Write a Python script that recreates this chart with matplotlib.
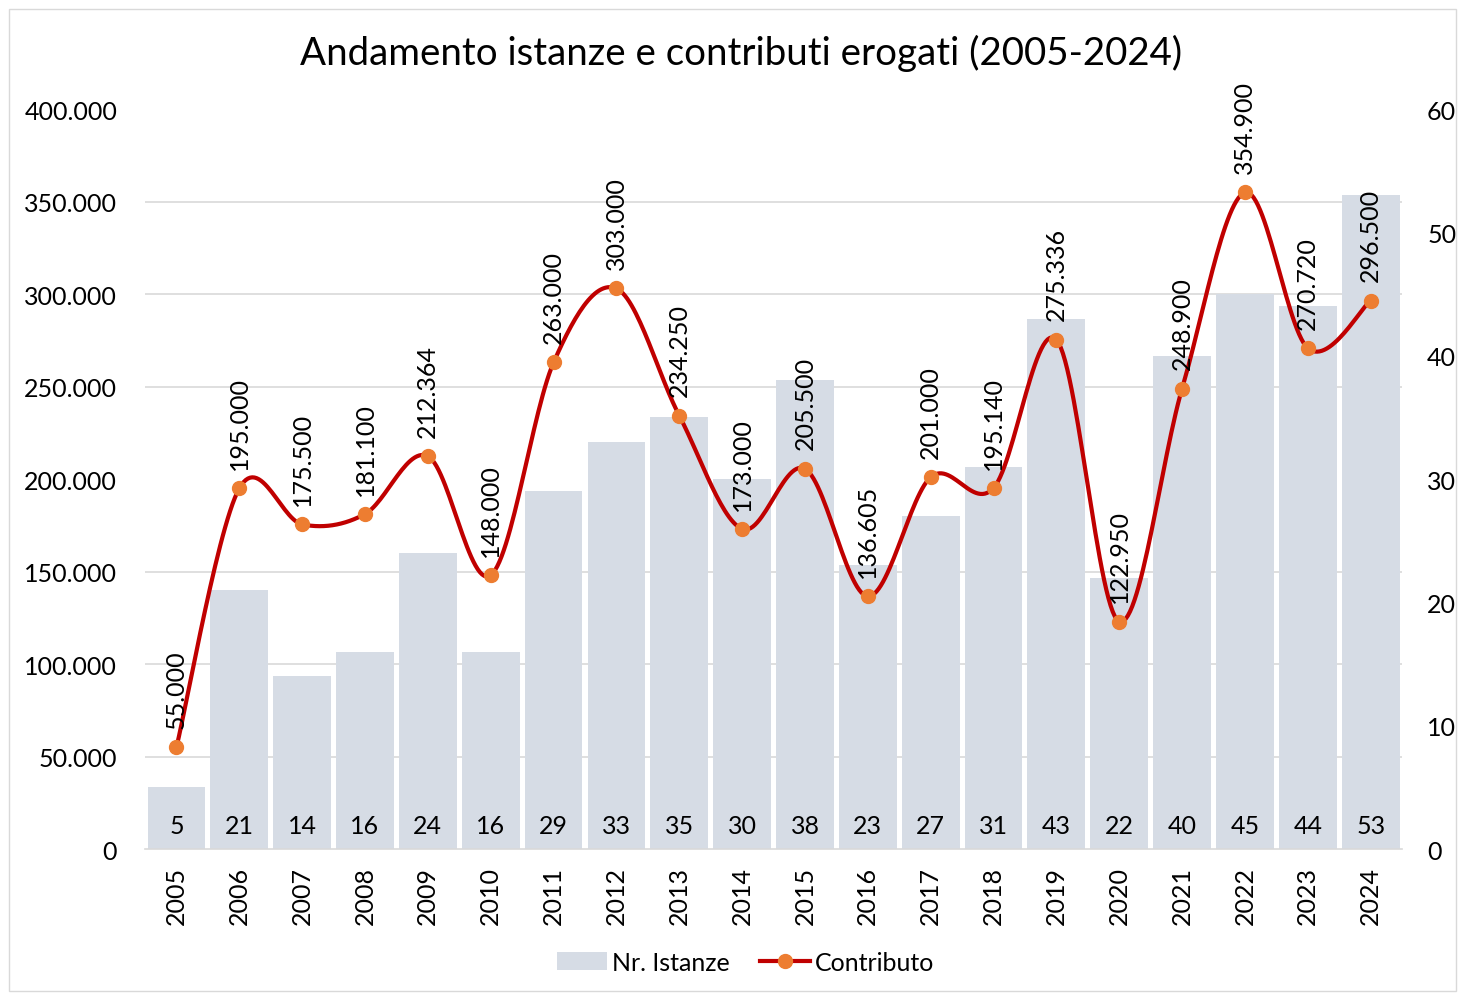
import numpy as np
import matplotlib
matplotlib.use("Agg")
import matplotlib.pyplot as plt
from matplotlib.ticker import MultipleLocator, FuncFormatter
from matplotlib.patches import Rectangle
from matplotlib.lines import Line2D
from matplotlib.patches import Patch

plt.rcParams['font.family'] = ['Lato', 'DejaVu Sans']

years = [2005, 2006, 2007, 2008, 2009, 2010, 2011, 2012, 2013, 2014,
         2015, 2016, 2017, 2018, 2019, 2020, 2021, 2022, 2023, 2024]
istanze = [5, 21, 14, 16, 24, 16, 29, 33, 35, 30, 38, 23, 27, 31, 43, 22, 40, 45, 44, 53]
contributo = [55000, 195000, 175500, 181100, 212364, 148000, 263000, 303000, 234250, 173000,
              205500, 136605, 201000, 195140, 275336, 122950, 248900, 354900, 270720, 296500]
title = "Andamento istanze e contributi erogati (2005-2024)"

BAR_COLOR = "#D6DCE5"
LINE_COLOR = "#C00000"
MARKER_COLOR = "#ED7D31"
TEXT_COLOR = "#000000"
FS = 18

def it_fmt(v):
    return f"{int(round(v)):,}".replace(",", ".")

def catmull_rom(x, y, n=30):
    x = np.asarray(x, float); y = np.asarray(y, float)
    px = np.concatenate([[x[0]], x, [x[-1]]])
    py = np.concatenate([[y[0]], y, [y[-1]]])
    xs, ys = [], []
    for i in range(1, len(px) - 2):
        p0, p1, p2, p3 = (np.array([px[j], py[j]]) for j in (i - 1, i, i + 1, i + 2))
        c1 = p1 + (p2 - p0) / 6.0
        c2 = p2 - (p3 - p1) / 6.0
        t = np.linspace(0, 1, n)[:, None]
        pts = (1 - t) ** 3 * p1 + 3 * (1 - t) ** 2 * t * c1 + 3 * (1 - t) * t ** 2 * c2 + t ** 3 * p2
        xs.append(pts[:, 0]); ys.append(pts[:, 1])
    return np.concatenate(xs), np.concatenate(ys)

fig = plt.figure(figsize=(14.59, 9.95), dpi=100)
fig.patches.append(Rectangle((0.006, 0.003), 0.992, 0.987, transform=fig.transFigure,
                             fill=False, edgecolor="#D9D9D9", linewidth=1))

ax_bar = fig.add_axes([0.0994, 0.1457, 0.8616, 0.7437])
ax_line = ax_bar.twinx()

x = np.arange(len(years))

# Bars (right scale)
ax_bar.bar(x, istanze, width=0.92, color=BAR_COLOR, zorder=2)
ax_bar.set_ylim(0, 60)
ax_bar.set_xlim(-0.5, len(years) - 0.5)
ax_bar.yaxis.set_major_locator(MultipleLocator(10))
ax_bar.yaxis.set_minor_locator(MultipleLocator(7.5))
ax_bar.yaxis.tick_right()
ax_bar.grid(which='minor', axis='y', color="#D9D9D9", linewidth=1.2, zorder=0)
ax_bar.set_axisbelow(True)
ax_bar.tick_params(axis='y', which='both', length=0, labelsize=FS, pad=18, labelcolor=TEXT_COLOR)
ax_bar.set_xticks(x)
ax_bar.set_xticklabels([str(y) for y in years], rotation=90, fontsize=FS)
ax_bar.tick_params(axis='x', length=0, pad=12)
for s in ['top', 'left', 'right']:
    ax_bar.spines[s].set_visible(False)
ax_bar.spines['bottom'].set_color("#D9D9D9")
ax_bar.spines['bottom'].set_linewidth(1.2)
for xi, v in zip(x, istanze):
    ax_bar.annotate(str(v), (xi, 0), xytext=(0, 9), textcoords='offset points',
                    ha='center', va='bottom', fontsize=FS, color=TEXT_COLOR)

# Line (left scale)
ax_line.set_ylim(0, 400000)
ax_line.yaxis.tick_left()
ax_line.yaxis.set_major_locator(MultipleLocator(50000))
ax_line.yaxis.set_major_formatter(FuncFormatter(lambda v, p: it_fmt(v)))
ax_line.tick_params(axis='y', length=0, labelsize=FS, pad=20, labelcolor=TEXT_COLOR)
for s in ax_line.spines.values():
    s.set_visible(False)
sx, sy = catmull_rom(x, contributo)
ax_line.plot(sx, sy, color=LINE_COLOR, linewidth=3, zorder=3, solid_capstyle='round')
ax_line.plot(x, contributo, linestyle='none', marker='o', markersize=10,
             color=MARKER_COLOR, zorder=4)
for xi, v in zip(x, contributo):
    ax_line.annotate(it_fmt(v), (xi, v), xytext=(0, 14), textcoords='offset points',
                     ha='center', va='bottom', rotation=90, fontsize=FS, color=TEXT_COLOR)

fig.text(0.508, 0.946, title, ha='center', va='center', fontsize=27.7, color=TEXT_COLOR)

handles = [Patch(facecolor=BAR_COLOR, edgecolor='none', label='Nr. Istanze'),
           Line2D([0], [0], color=LINE_COLOR, linewidth=3, marker='o', markersize=10,
                  markerfacecolor=MARKER_COLOR, markeredgecolor=MARKER_COLOR, label='Contributo')]
fig.legend(handles=handles, loc='center', bbox_to_anchor=(0.511, 0.032), ncol=2, frameon=False,
           fontsize=FS, handlelength=2.0, handletextpad=0.2, columnspacing=1.2)

fig.savefig("out.png", dpi=100)
